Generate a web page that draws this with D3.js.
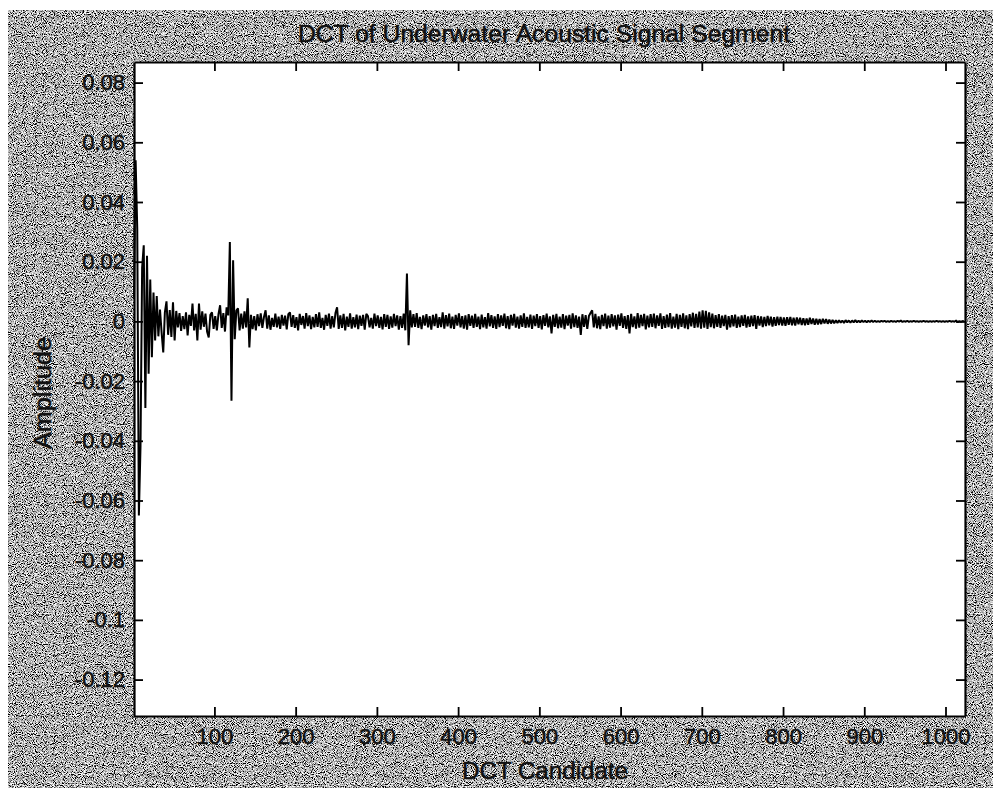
<!DOCTYPE html>
<html>
<head>
<meta charset="utf-8">
<script src="https://cdn.jsdelivr.net/npm/d3@7"></script>
<style>
  html, body { margin: 0; padding: 0; background: #fff; }
  svg { display: block; }
  text { font-family: "Liberation Sans", Arial, sans-serif; fill: #111; }
</style>
</head>
<body>
<svg id="chart"></svg>
<script>
// DCT coefficients, every 2nd candidate (1, 3, 5, ... 1023), amplitude in units of 1e-4
var step = 2;
var amplitude = [
  80, 540, 310, -650, -420, 180, 255, -290, 220, -175, 140, -120, 97, -64, 85, -50,
  40, -38, -104, 30, 67, -45, 38, -52, 64, -64, 35, -20, 28, -32, 18, -26,
  30, -47, 22, -15, 60, -30, 25, -64, 60, -28, 34, -18, 26, -35, -54, 22,
  30, -25, 18, -30, 24, 54, -22, 28, -34, 47, 20, 266, -266, 205, -60, 36,
  44, -30, 26, -24, 34, -20, 77, -87, 22, -26, 18, -30, 24, -16, 27, -22,
  15, 37, -24, 20, -28, 12, -18, 26, -20, 16, -25, 22, -14, 19, -27, 24,
  30, -18, 21, -22, 14, -30, 25, -12, 18, -24, 28, -16, 20, -26, 15, -20,
  24, -18, 30, -22, 12, -28, 22, -15, 26, -24, 18, -20, 28, 47, -25, 20,
  -22, 25, -30, 16, -18, 27, -24, 14, -20, 23, -26, 19, -15, 22, -28, 25,
  18, -20, 12, -24, 26, -16, 20, -22, 15, -27, 24, -18, 22, -25, 17, -21,
  25, -16, 20, -28, 18, -22, 26, -30, 160, -80, 37, -20, 24, -18, 28, -22,
  15, -26, 20, -14, 24, -20, 18, -28, 22, -16, 25, -22, 14, -19, 30, -24,
  21, -17, 26, -23, 16, -25, 22, -14, 27, -20, 18, -24, 20, -28, 24, -15,
  19, -22, 25, -18, 16, -26, 23, -20, 14, -24, 28, -17, 21, -22, 17, -25,
  24, -19, 20, -15, 26, -23, 18, -26, 22, -14, 25, -21, 16, -24, 20, -18,
  27, -22, 15, -20, 23, -25, 19, -16, 24, -22, 18, -27, 21, -15, 26, -20,
  17, -40, 22, -18, 25, -23, 16, -21, 24, -26, 19, -14, 22, -24, 27, -19,
  20, -22, 16, -45, 24, -18, 21, -25, 18, 28, 37, -20, 25, -23, 17, -26,
  22, -16, 26, -24, 19, -21, 24, -17, 20, -28, 23, -15, 27, -22, 18, -25,
  21, -40, 25, -19, 17, -24, 28, -21, 22, -16, 25, -27, 19, -20, 24, -18,
  26, -23, 20, -15, 27, -25, 18, -22, 23, -19, 28, -24, 16, -21, 25, -26,
  22, -18, 27, -23, 20, -26, 24, -17, 29, -22, 25, -20, 33, -24, 37, -21,
  35, -25, 30, -19, 26, -23, 21, -18, 24, -22, 19, -16, 22, -28, 18, -20,
  21, -17, 23, -22, 16, -19, 20, -15, 22, -21, 17, -18, 19, -16, 21, -25,
  18, -14, 17, -19, 15, -16, 18, -13, 16, -17, 14, -15, 16, -12, 15, -14,
  13, -15, 14, -11, 15, -13, 12, -14, 13, -10, 12, -12, 11, -13, 10, -11,
  12, -9, 10, -11, 9, -10, 8, -9, 9, -7, 8, -8, 6, -7, 5, -6,
  4, -5, 4, -4, 3, -5, 4, -3, 3, -4, 3, -3, 4, -3, 2, -3,
  3, -2, 2, -3, 2, -2, 3, -2, 2, -2, 1, -2, 2, -1, 2, -2,
  1, -2, 2, -1, 1, -2, 2, -1, 3, -2, 1, -1, 2, -2, 1, -1,
  2, -1, 1, -2, 1, -1, 2, -1, 1, -2, 1, -1, 1, -1, 2, -1,
  1, -1, 1, -2, 1, -1, 2, -1, 1, -1, 3, -3, 1, -1, 1, 0
];
var candidates = d3.range(1, 1025, step);
var xTicks = [100, 200, 300, 400, 500, 600, 700, 800, 900, 1000];
var yTicks = [0.08, 0.06, 0.04, 0.02, 0, -0.02, -0.04, -0.06, -0.08, -0.1, -0.12];
var yTickLabels = ["0.08", "0.06", "0.04", "0.02", "0", "-0.02", "-0.04", "-0.06", "-0.08", "-0.1", "-0.12"];

var width = 993, height = 788;
var plot = {left: 134, top: 62, right: 965, bottom: 716};

var svg = d3.select("#chart").attr("width", width).attr("height", height);

// grainy grey backdrop like the scanned figure
var defs = svg.append("defs");
var grain = defs.append("filter").attr("id", "grain")
    .attr("x", 0).attr("y", 0).attr("width", "100%").attr("height", "100%");
grain.append("feTurbulence")
    .attr("type", "fractalNoise").attr("baseFrequency", 1.1)
    .attr("numOctaves", 1).attr("seed", 7);
grain.append("feColorMatrix").attr("type", "matrix")
    .attr("values", "1 0 0 0 0  1 0 0 0 0  1 0 0 0 0  0 0 0 0 1");
var ct = grain.append("feComponentTransfer");
["feFuncR", "feFuncG", "feFuncB"].forEach(function(f) {
  ct.append(f).attr("type", "linear").attr("slope", 3.6).attr("intercept", -1.35);
});

svg.append("rect")
    .attr("x", 8).attr("y", 10)
    .attr("width", width - 8).attr("height", height - 10)
    .attr("fill", "#999")
    .attr("filter", "url(#grain)");

svg.append("rect")
    .attr("x", plot.left).attr("y", plot.top)
    .attr("width", plot.right - plot.left).attr("height", plot.bottom - plot.top)
    .attr("fill", "#fff");

var x = d3.scaleLinear().domain([1, 1024]).range([plot.left, plot.right]);
var y = d3.scaleLinear().domain([-0.1322, 0.0869]).range([plot.bottom, plot.top]);

// signal
var line = d3.line()
    .x(function(d, i) { return x(candidates[i]); })
    .y(function(d) { return y(d * 1e-4); });

svg.append("path")
    .datum(amplitude)
    .attr("d", line)
    .attr("fill", "none")
    .attr("stroke", "#000")
    .attr("stroke-width", 2)
    .attr("stroke-linejoin", "bevel");

// axes, ticks pointing inward on all four sides
function styleAxis(g) {
  g.select(".domain").attr("stroke", "#000").attr("stroke-width", 2.2);
  g.selectAll(".tick line").attr("stroke", "#000").attr("stroke-width", 1.8);
  g.selectAll(".tick text")
      .attr("font-size", 22)
      .attr("font-family", "'Liberation Sans', Arial, sans-serif")
      .attr("fill", "#111")
      .attr("stroke", "#111").attr("stroke-width", 0.5);
}

svg.append("g")
    .attr("transform", "translate(0," + plot.bottom + ")")
    .call(d3.axisBottom(x).tickValues(xTicks).tickSizeInner(-9).tickSizeOuter(0)
      .tickPadding(12).tickFormat(d3.format("d")))
    .call(styleAxis);

svg.append("g")
    .attr("transform", "translate(0," + plot.top + ")")
    .call(d3.axisTop(x).tickValues(xTicks).tickSizeInner(-9).tickSizeOuter(0)
      .tickFormat(""))
    .call(styleAxis);

svg.append("g")
    .attr("transform", "translate(" + plot.left + ",0)")
    .call(d3.axisLeft(y).tickValues(yTicks).tickSizeInner(-9).tickSizeOuter(0)
      .tickPadding(9).tickFormat(function(d, i) { return yTickLabels[i]; }))
    .call(styleAxis);

svg.append("g")
    .attr("transform", "translate(" + plot.right + ",0)")
    .call(d3.axisRight(y).tickValues(yTicks).tickSizeInner(-9).tickSizeOuter(0)
      .tickFormat(""))
    .call(styleAxis);

// titles
var labelStyle = function(t) {
  t.attr("font-size", 23).attr("stroke", "#111").attr("stroke-width", 0.5);
};

svg.append("text")
    .attr("x", 544).attr("y", 42)
    .attr("text-anchor", "middle")
    .attr("textLength", 492).attr("lengthAdjust", "spacingAndGlyphs")
    .call(labelStyle)
    .text("DCT of Underwater Acoustic Signal Segment");

svg.append("text")
    .attr("x", 545).attr("y", 779)
    .attr("text-anchor", "middle")
    .attr("textLength", 166).attr("lengthAdjust", "spacingAndGlyphs")
    .call(labelStyle)
    .text("DCT Candidate");

svg.append("text")
    .attr("transform", "translate(51,393) rotate(-90)")
    .attr("text-anchor", "middle")
    .attr("textLength", 112).attr("lengthAdjust", "spacingAndGlyphs")
    .call(labelStyle)
    .text("Amplitude");
</script>
</body>
</html>
